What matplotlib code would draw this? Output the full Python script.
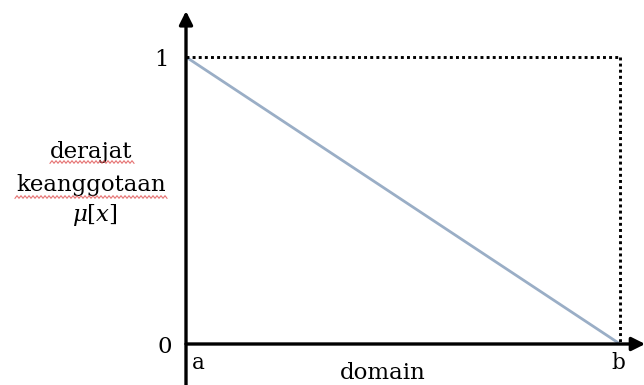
# Linear decreasing membership function between a and b

import numpy as np
import matplotlib.pyplot as plt

domain_pts = [0.0, 1.0]     # a, b
membership = [1.0, 0.0]     # mu at a, mu at b
tick_names = ['a', 'b']
level_names = ['0', '1']

plt.rcParams['font.family'] = ['DejaVu Serif']
plt.rcParams['mathtext.fontset'] = 'dejavuserif'
fs = 16.5

fig = plt.figure(figsize=(6.44, 3.85), dpi=100)
ax = fig.add_axes([186/644, 41/385, 434/644, 287/385])
ax.set_xlim(0, 1)
ax.set_ylim(0, 1)
ax.axis('off')

# membership line
ax.plot(domain_pts, membership, color='#9aaec6', lw=2, solid_capstyle='round')

# dotted guides at mu = 1 and x = b
ax.plot([domain_pts[0], domain_pts[1]], [1, 1], color='black', lw=2.1,
        linestyle=(0, (1, 1.1)), clip_on=False)
ax.plot([domain_pts[1], domain_pts[1]], [1, 0], color='black', lw=2.1,
        linestyle=(0, (1, 1.1)), clip_on=False)

# axes with arrow heads
arrow = dict(arrowstyle='-|>', lw=2.4, color='black',
             mutation_scale=20, shrinkA=0, shrinkB=0)
ax.annotate('', xy=(1.058, 0), xytext=(0, 0), arrowprops=arrow,
            annotation_clip=False)
ax.annotate('', xy=(0, 1.16), xytext=(0, -0.145), arrowprops=arrow,
            annotation_clip=False)

# level labels
ax.text(-0.057, 0.99, level_names[1], ha='center', va='center', fontsize=fs)
ax.text(-0.05, -0.01, level_names[0], ha='center', va='center', fontsize=fs)

# domain labels
ax.text(domain_pts[0] + 0.028, -0.065, tick_names[0], ha='center', va='center', fontsize=fs - 1)
ax.text(domain_pts[1] - 0.005, -0.065, tick_names[1], ha='center', va='center', fontsize=fs - 1)
ax.text(0.454, -0.10, 'domain', ha='center', va='center', fontsize=fs)

# y label
ax.text(-0.219, 0.67, 'derajat', ha='center', va='center', fontsize=fs)
ax.text(-0.219, 0.555, 'keanggotaan', ha='center', va='center', fontsize=fs)
ax.text(-0.209, 0.45, r'$\mu[x]$', ha='center', va='center', fontsize=fs)

# spell-check squiggles under the label words
def squiggle(x0, x1, y, amp=1.3, step=2.0):
    xs = np.arange(x0, x1 + step, step)
    ys = y + amp * np.where(np.arange(len(xs)) % 2 == 0, 1, -1)
    fig.add_artist(plt.Line2D(xs / 644, 1 - ys / 385, color='#e05050',
                              lw=0.8, alpha=0.8))

squiggle(50, 134, 162)
squiggle(15, 167, 197)

fig.savefig('out.png', dpi=100)
